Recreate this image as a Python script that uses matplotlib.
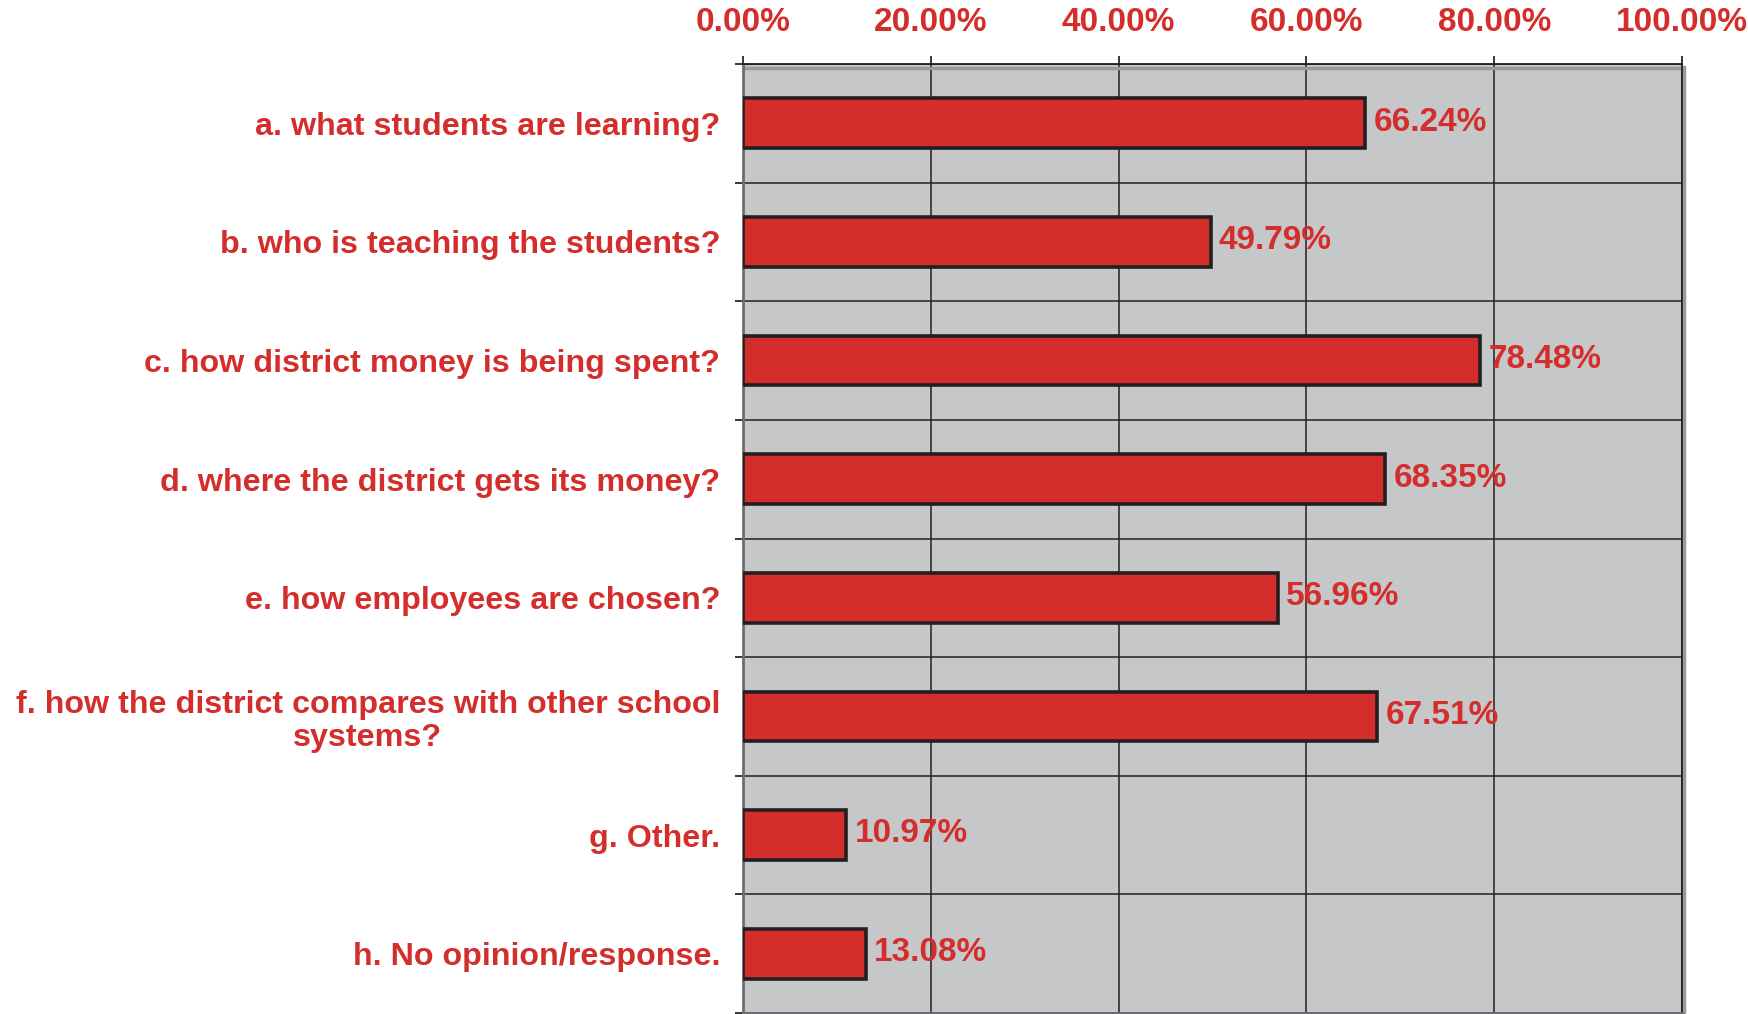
import matplotlib
matplotlib.use("Agg")
import matplotlib.pyplot as plt
from matplotlib.lines import Line2D
import numpy as np

categories = [
    "a. what students are learning?",
    "b. who is teaching the students?",
    "c. how district money is being spent?",
    "d. where the district gets its money?",
    "e. how employees are chosen?",
    "f. how the district compares with other school\nsystems?",
    "g. Other.",
    "h. No opinion/response.",
]
values = [66.24, 49.79, 78.48, 68.35, 56.96, 67.51, 10.97, 13.08]
xticks = [0, 20, 40, 60, 80, 100]
xtick_labels = ["0.00%", "20.00%", "40.00%", "60.00%", "80.00%", "100.00%"]

RED = "#d32e2b"
BG = "#c6c7c9"
plt.rcParams['font.family'] = ['Liberation Sans', 'DejaVu Sans']

fig = plt.figure(figsize=(17.49, 10.14), dpi=100)
ax = fig.add_axes([743/1749, 1 - 1013/1014, (1682-743)/1749, (1013-64)/1014])
ax.set_facecolor(BG)

y = np.arange(len(categories))
ax.barh(y, values, height=0.42, color=RED, edgecolor="#231f20", linewidth=2.6, zorder=3)

ax.set_xlim(0, 100)
ax.set_ylim(len(categories) - 0.5, -0.5)

ax.set_xticks(xticks)
ax.set_xticklabels(xtick_labels)
ax.xaxis.tick_top()
ax.tick_params(axis='x', which='major', direction='out', length=6, width=1.1, color='black',
               labelsize=24, labelcolor=RED, pad=13)
for lbl in ax.get_xticklabels():
    lbl.set_fontweight('bold')

ax.set_yticks(y)
ax.set_yticklabels(categories, fontsize=23.2, fontweight='bold', color=RED,
                   multialignment='center', linespacing=1.15)
ax.set_yticks(np.arange(len(categories) + 1) - 0.5, minor=True)
ax.tick_params(axis='y', which='major', length=0, pad=16.5)
ax.tick_params(axis='y', which='minor', direction='out', length=6, width=1.1, color='black')

ax.grid(True, axis='x', which='major', color='#231f20', linewidth=1.1, zorder=1)
ax.grid(True, axis='y', which='minor', color='#231f20', linewidth=1.1, zorder=1)
ax.set_axisbelow(True)

for s in ['top', 'right']:
    ax.spines[s].set_color('#231f20')
    ax.spines[s].set_linewidth(1.3)
for s in ['left', 'bottom']:
    ax.spines[s].set_color('#6d6e71')
    ax.spines[s].set_linewidth(2.0)

# subtle shadow lines (3D look)
ax.add_line(Line2D([0, 1], [0.996, 0.996], transform=ax.transAxes, color='#9a9b9e', lw=2.5, zorder=2))
ax.add_line(Line2D([1.0025, 1.0025], [0, 0.997], transform=ax.transAxes, color='#9a9b9e', lw=2.5,
                   clip_on=False, zorder=2))

for yi, v in zip(y, values):
    ax.text(v + 0.9, yi - 0.01, f"{v:.2f}%", va='center', ha='left', fontsize=24,
            fontweight='bold', color=RED, zorder=4)

fig.savefig("out.png", dpi=100)
